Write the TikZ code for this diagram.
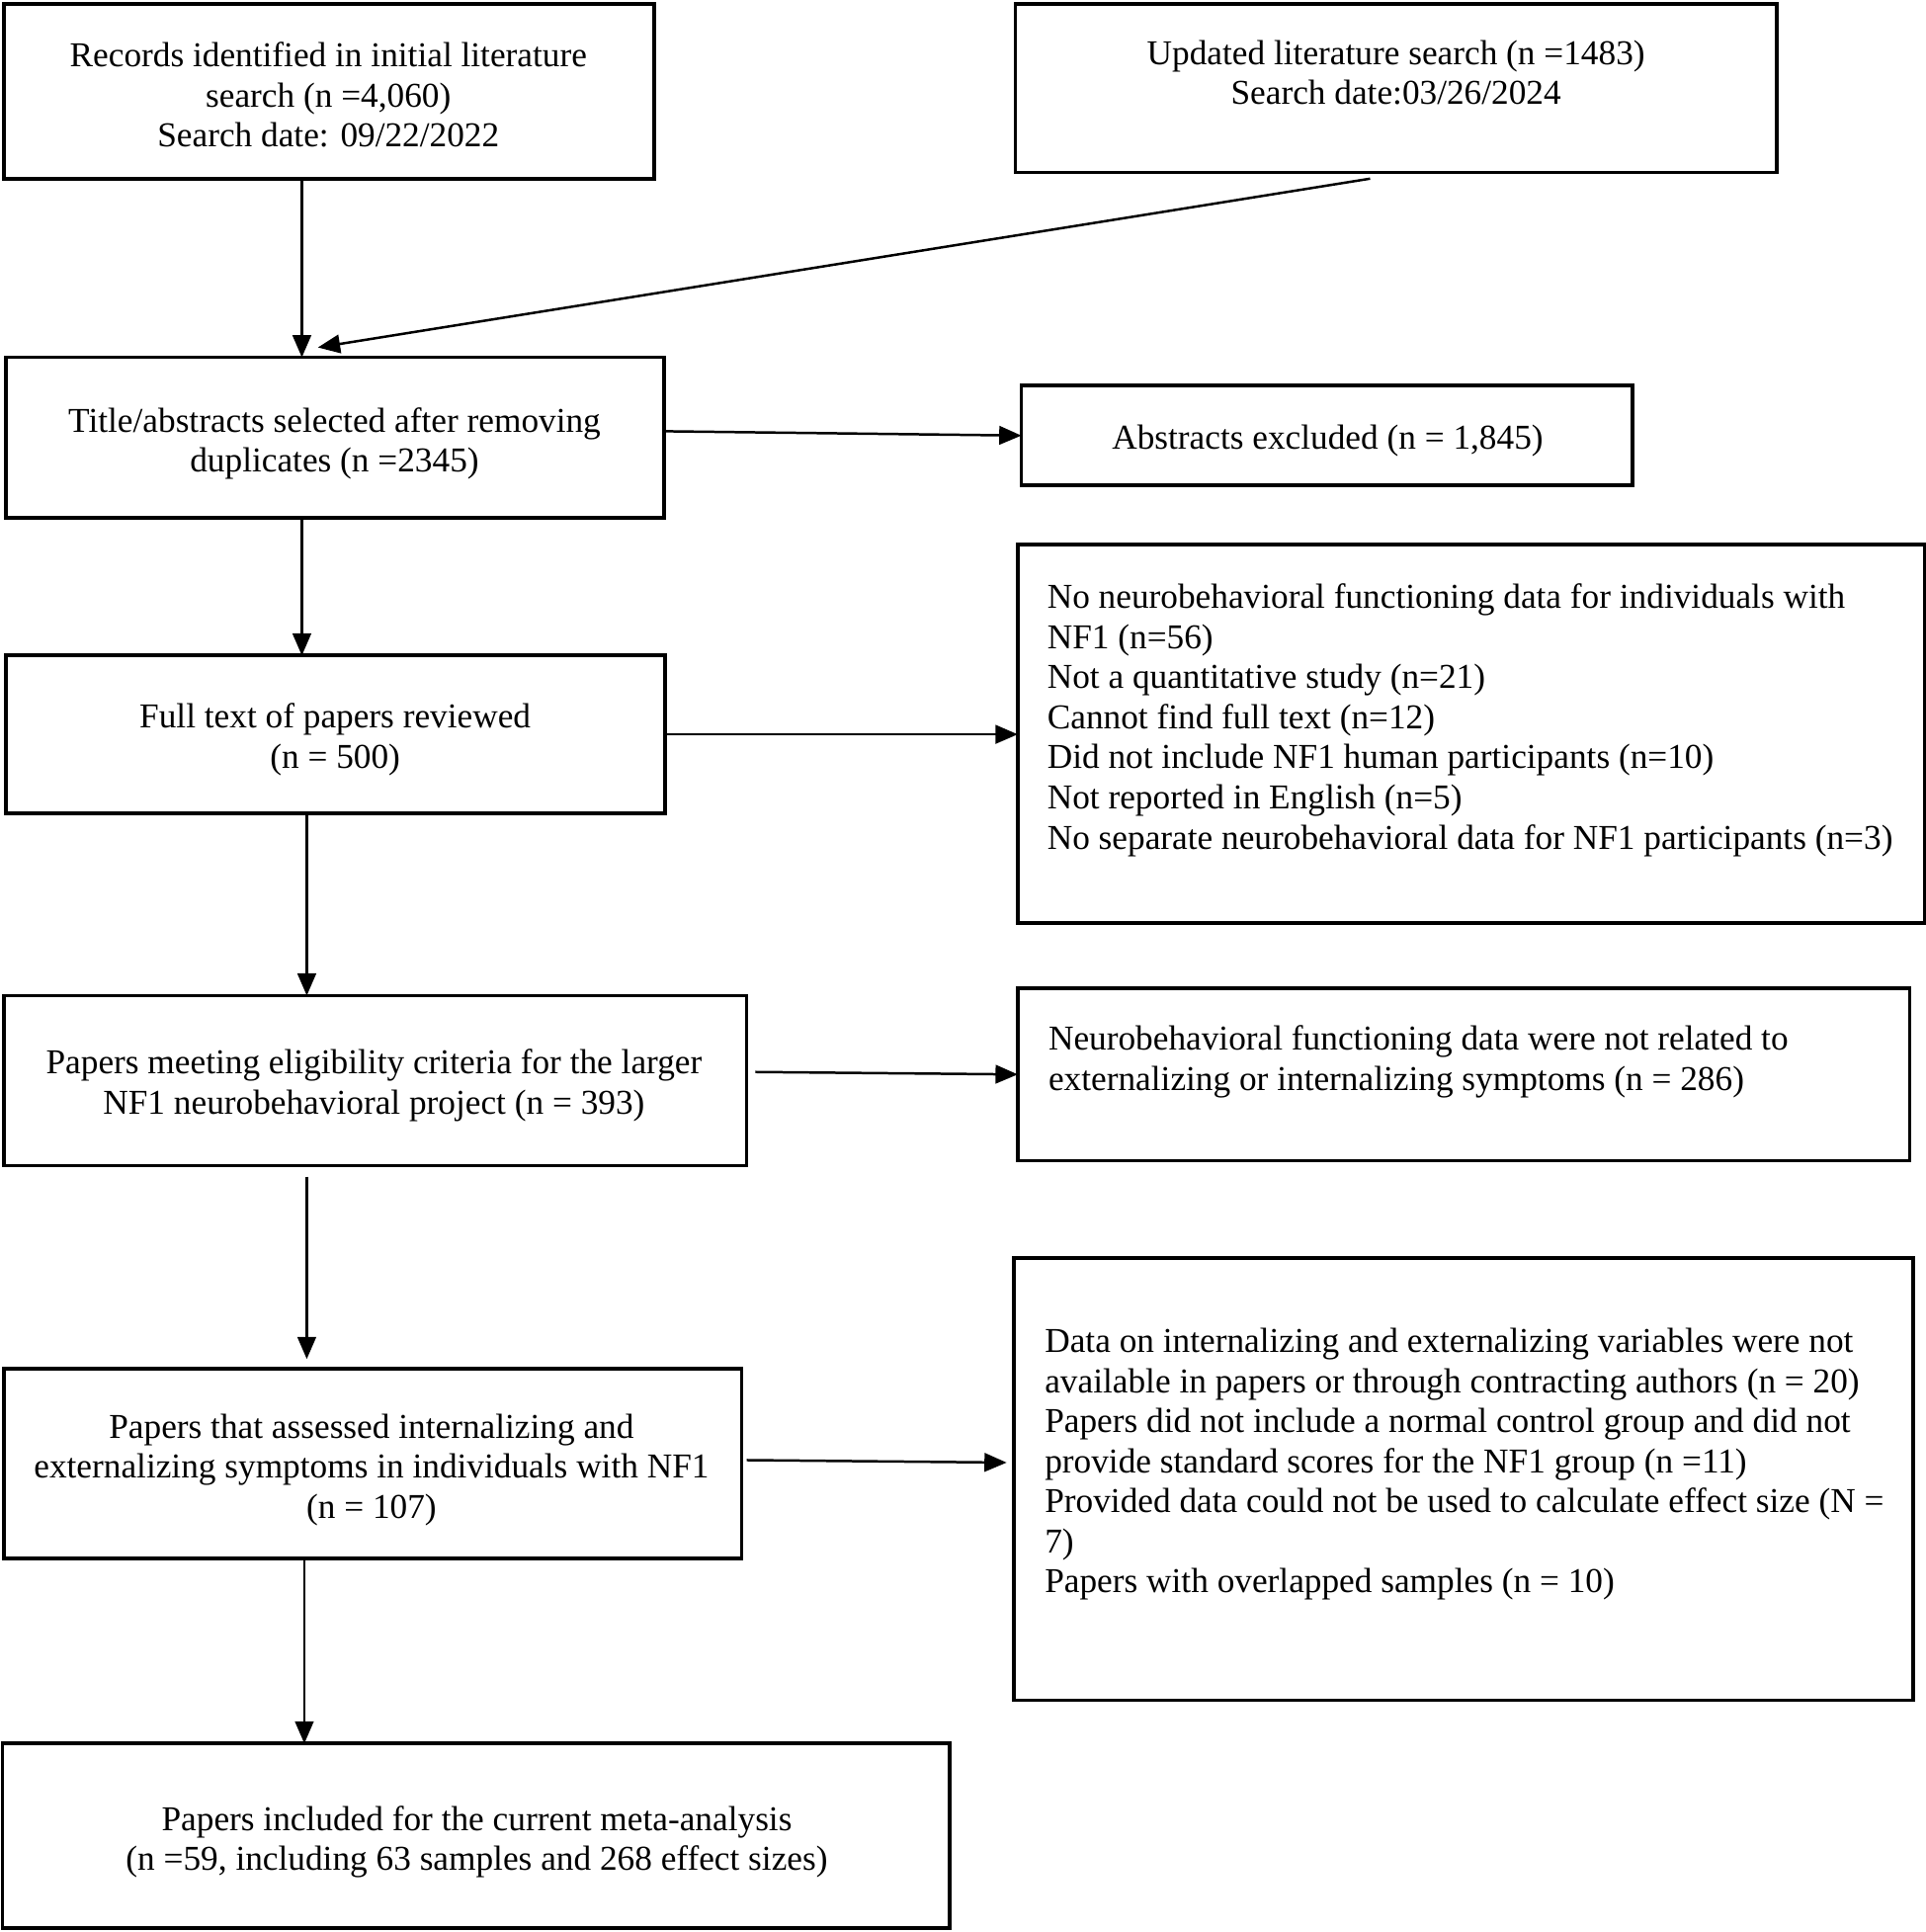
\documentclass[tikz,border=0pt]{standalone}
\usepackage{fontspec}
\setmainfont{Liberation Serif}
\usetikzlibrary{arrows.meta}
\begin{document}
\begin{tikzpicture}[x=1pt,y=-1pt,
  boxnode/.style={draw=black,line width=3pt,rectangle,inner sep=0pt,outer sep=0pt},
  txt/.style={inner sep=0pt,outer sep=0pt,font=\fontsize{28.3}{32.5}\selectfont},
  arr/.style={line width=2pt,-{Triangle[length=18pt,width=15pt]}}]
\useasboundingbox[fill=white] (0,0) rectangle (1563,1568);
% boxes
\node[boxnode,minimum width=528pt,minimum height=142pt] (A) at (267,74) {};
\node[boxnode,minimum width=618pt,minimum height=137pt] (B) at (1133,71.5) {};
\node[boxnode,minimum width=534pt,minimum height=130pt] (C) at (272,355) {};
\node[boxnode,minimum width=496pt,minimum height=81pt] (D) at (1077,353.5) {};
\node[boxnode,minimum width=535pt,minimum height=128pt] (E) at (272.5,596) {};
\node[boxnode,minimum width=736pt,minimum height=307pt] (F) at (1194,595.5) {};
\node[boxnode,minimum width=603pt,minimum height=138pt] (G) at (304.5,877) {};
\node[boxnode,minimum width=724pt,minimum height=140pt] (H) at (1188,872) {};
\node[boxnode,minimum width=599pt,minimum height=154pt] (I) at (302.5,1188) {};
\node[boxnode,minimum width=730pt,minimum height=359pt] (J) at (1188,1200.5) {};
\node[boxnode,minimum width=769pt,minimum height=150pt] (K) at (386.5,1490) {};
% texts
\node[txt,align=center] (tA) at (266.5,77) {Records identified in initial literature\\search (n =4,060)\\Search date: 09/22/2022};
\node[txt,align=center] (tB) at (1133,59) {Updated literature search (n =1483)\\Search date:03/26/2024};
\node[txt,align=center] (tC) at (271.5,360) {Title/abstracts selected after removing\\duplicates (n =2345)};
\node[txt,align=center] (tD) at (1077.5,358) {Abstracts excluded (n = 1,845)};
\node[txt,align=center] (tE) at (272,600) {Full text of papers reviewed\\(n = 500)};
\node[txt,align=left,anchor=west] (tF) at (850,584.5) {No neurobehavioral functioning data for individuals with\\NF1 (n=56)\\Not a quantitative study (n=21)\\Cannot find full text (n=12)\\Did not include NF1 human participants (n=10)\\Not reported in English (n=5)\\No separate neurobehavioral data for NF1 participants (n=3)};
\node[txt,align=center] (tG) at (303.5,881) {Papers meeting eligibility criteria for the larger\\NF1 neurobehavioral project (n = 393)};
\node[txt,align=left,anchor=west] (tH) at (851,861.5) {Neurobehavioral functioning data were not related to\\externalizing or internalizing symptoms (n = 286)};
\node[txt,align=center] (tI) at (301.5,1193) {Papers that assessed internalizing and\\externalizing symptoms in individuals with NF1\\(n = 107)};
\node[txt,align=left,anchor=west] (tJ) at (848,1188.5) {Data on internalizing and externalizing variables were not\\available in papers or through contracting authors (n = 20)\\Papers did not include a normal control group and did not\\provide standard scores for the NF1 group (n =11)\\Provided data could not be used to calculate effect size (N =\\7)\\Papers with overlapped samples (n = 10)};
\node[txt,align=center] (tK) at (387,1495) {Papers included for the current meta-analysis\\(n =59, including 63 samples and 268 effect sizes)};
% reference coordinates
\coordinate (x1) at (245,0);
\coordinate (x2) at (249,0);
\coordinate (x3) at (247,0);
\coordinate (bx) at (1112,0);
\coordinate (cTip) at (258,282);
% connectors
\draw[arr] (A.south -| x1) -- (C.north -| x1);
\draw[arr] ([yshift=-5pt]B.south -| bx) -- (cTip);
\draw[arr] ([yshift=5pt]C.east) -- (D.west);
\draw[arr] (C.south -| x1) -- (E.north -| x1);
\draw[arr] (E.east) -- (E.east -| F.west);
\draw[arr] (E.south -| x2) -- (G.north -| x2);
\draw[arr] ([xshift=7pt,yshift=7pt]G.east) -- (H.west);
\draw[arr] ([yshift=-9pt]G.south -| x2) -- ([yshift=8pt]I.north -| x2);
\draw[arr] ([xshift=4pt,yshift=3pt]I.east) -- ([xshift=-6pt,yshift=13.5pt]J.west);
\draw[arr] (I.south -| x3) -- (K.north -| x3);
\end{tikzpicture}
\end{document}
